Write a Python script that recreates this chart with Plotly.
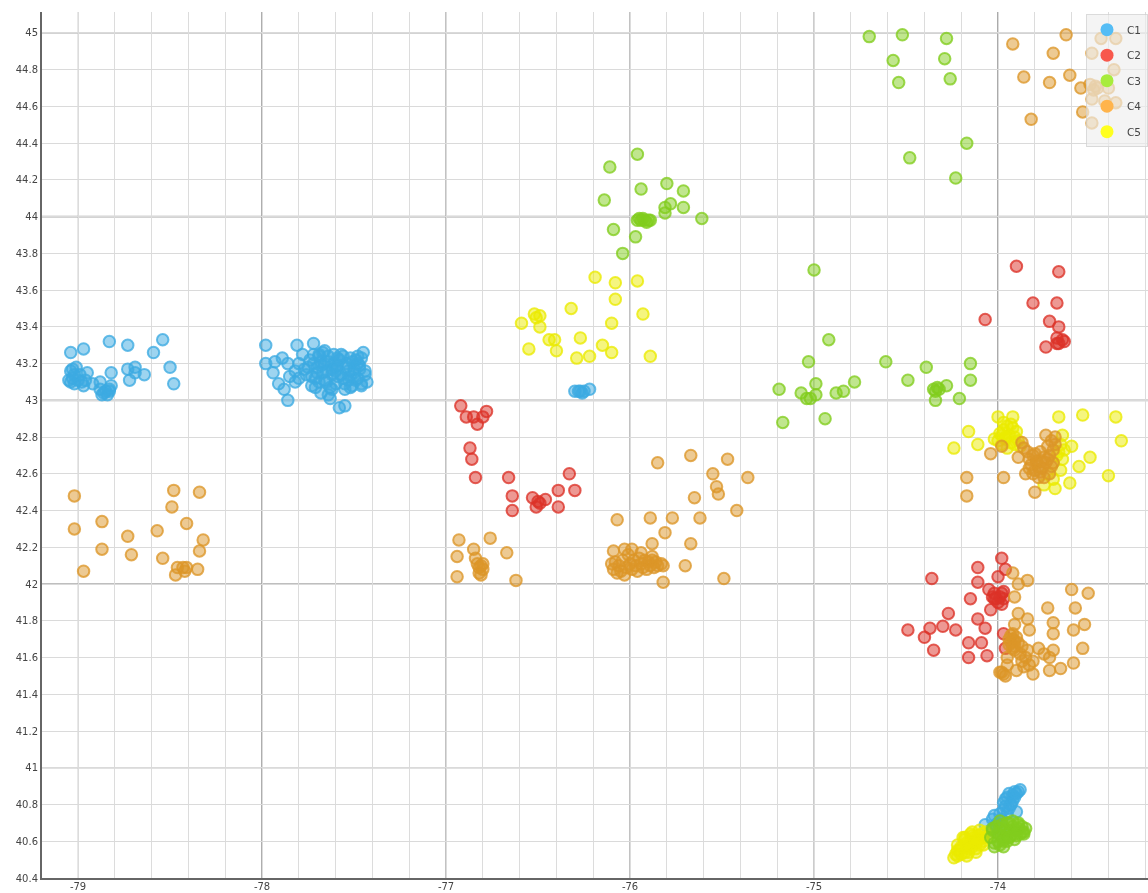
import plotly.graph_objects as go

c1_x = [-79.04,-78.97,-78.83,-78.73,-78.54,-78.59,-78.50,-78.48,-78.64,-78.69,-78.73,-78.72,-78.69,-78.82,-78.82,
        -78.88,-78.86,-78.84,-78.87,-78.85,-78.83,-78.88,-78.83,
        -79.04,-79.05,-79.03,-79.02,-79.00,-78.98,-78.97,-79.03,-79.04,-79.01,-78.99,-78.95,-78.92,-78.96,-79.02,
        -77.98,-77.81,-77.72,-77.98,-77.93,-77.89,-77.94,-77.91,-77.80,-77.78,-77.86,-77.85,-77.82,-77.80,-77.82,-77.88,-77.86,-77.77,
        -77.74,-77.73,-77.72,-77.71,-77.70,-77.69,-77.68,-77.67,-77.66,-77.65,-77.64,-77.63,-77.62,-77.61,-77.60,-77.59,-77.58,-77.57,-77.56,-77.55,-77.54,-77.53,-77.52,-77.51,-77.50,-77.49,-77.48,-77.47,-77.46,-77.45,-77.44,-77.43,
        -77.75,-77.73,-77.70,-77.68,-77.66,-77.64,-77.62,-77.60,-77.58,-77.56,-77.54,-77.52,-77.50,-77.48,-77.46,-77.44,
        -77.76,-77.72,-77.69,-77.67,-77.65,-77.63,-77.61,-77.59,-77.57,-77.55,-77.53,-77.51,-77.49,-77.47,
        -77.71,-77.66,-77.64,-77.60,-77.62,-77.55,-77.52,-77.59,-77.48,-77.46,-77.69,-77.68,
        -76.30,-76.28,-76.26,-76.27,-76.25,-76.22,
        -74.07,-74.04,-74.03,-74.01,-74.02,-74.00,-73.99,-73.98,-73.97,-73.98,-73.96,-73.95,-73.97,-73.94,-73.96,-73.93,-73.95,-73.92,-73.94,-73.91,-73.93,-73.90,-73.92,-73.89,-73.91,-73.88,-73.90]
c1_y = [43.26,43.28,43.32,43.30,43.33,43.26,43.18,43.09,43.14,43.18,43.17,43.11,43.15,43.15,43.08,
        43.06,43.04,43.03,43.03,43.05,43.05,43.10,43.06,
        43.10,43.11,43.12,43.09,43.11,43.10,43.08,43.17,43.16,43.18,43.14,43.15,43.09,43.11,43.14,
        43.30,43.30,43.31,43.20,43.21,43.23,43.15,43.09,43.20,43.25,43.20,43.13,43.10,43.12,43.16,43.06,43.00,43.17,
        43.22,43.13,43.25,43.07,43.18,43.24,43.04,43.15,43.27,43.10,43.21,43.01,43.17,43.25,43.09,43.19,42.96,43.14,43.24,43.06,43.20,43.11,43.23,43.08,43.17,43.22,43.12,43.19,43.09,43.26,43.14,43.10,
        43.18,43.08,43.15,43.21,43.11,43.24,43.06,43.16,43.22,43.12,43.18,43.07,43.15,43.20,43.08,43.16,
        43.14,43.20,43.10,43.26,43.16,43.07,43.20,43.13,43.25,43.09,43.16,43.21,43.11,43.17,
        43.12,43.20,43.03,43.18,43.14,42.97,43.13,43.23,43.24,43.23,43.25,43.19,
        43.05,43.05,43.04,43.05,43.05,43.06,
        40.69,40.66,40.72,40.69,40.74,40.70,40.75,40.72,40.77,40.68,40.79,40.75,40.81,40.78,40.83,40.80,40.84,40.82,40.86,40.84,40.80,40.86,40.85,40.87,40.87,40.88,40.76]

c2_x = [-76.92,-76.89,-76.85,-76.83,-76.80,-76.78,-76.87,-76.86,-76.84,-76.66,-76.64,-76.64,-76.53,-76.51,-76.50,-76.49,-76.46,-76.39,-76.39,-76.33,-76.30,
        -73.90,-73.67,-73.81,-73.68,-74.07,-73.72,-73.67,-73.68,-73.67,-73.74,-73.64,-73.68,-73.65,
        -74.36,-74.11,-74.11,-73.98,-73.96,-74.00,-74.05,-74.02,-74.01,-73.99,-73.97,-74.00,-73.98,-74.02,-74.03,-73.97,-74.15,-74.04,-73.98,
        -74.27,-74.11,-74.07,-74.30,-74.23,-74.37,-74.49,-74.40,-74.35,-74.16,-74.09,-74.16,-74.06,-73.97,-73.96]
c2_y = [42.97,42.91,42.91,42.87,42.91,42.94,42.74,42.68,42.58,42.58,42.48,42.40,42.47,42.42,42.45,42.44,42.46,42.51,42.42,42.60,42.51,
        43.73,43.70,43.53,43.53,43.44,43.43,43.40,43.34,43.31,43.29,43.32,43.31,43.33,
        42.03,42.09,42.01,42.14,42.08,42.04,41.97,41.95,41.92,41.93,41.92,41.90,41.95,41.92,41.93,41.96,41.92,41.86,41.89,
        41.84,41.81,41.76,41.77,41.75,41.76,41.75,41.71,41.64,41.68,41.68,41.60,41.61,41.73,41.65]

c3_x = [-74.70,-74.52,-74.28,-74.57,-74.29,-74.54,-74.26,-74.48,-74.17,-74.23,
        -76.11,-75.96,-76.14,-75.94,-75.80,-75.71,-75.78,-75.81,-75.81,-75.71,-75.61,-76.09,-75.97,-76.04,
        -75.96,-75.95,-75.94,-75.93,-75.92,-75.91,-75.90,-75.89,
        -75.00,-74.92,-75.03,-75.19,-75.17,-75.07,-75.04,-75.02,-74.99,-74.99,-74.94,-74.88,-74.84,-74.78,-74.61,-74.49,-74.39,-74.15,-74.15,-74.21,-74.28,-74.34,-74.35,-74.33,-74.34,-74.32,
        -74.04,-74.02,-74.00,-73.99,-73.98,-73.97,-73.96,-73.95,-73.94,-73.93,-73.92,-73.91,-73.90,-73.89,-73.88,-73.87,-73.86,-73.85,-74.03,-74.01,-73.99,-73.97,-73.95,-73.93,-73.91,-73.89,-73.87,-73.97,-74.00,-73.94,
        -74.03,-73.99,-73.95,-73.92,-73.89,-73.86,-74.02,-73.90,-73.97]
c3_y = [44.98,44.99,44.97,44.85,44.86,44.73,44.75,44.32,44.40,44.21,
        44.27,44.34,44.09,44.15,44.18,44.14,44.07,44.05,44.02,44.05,43.99,43.93,43.89,43.80,
        43.98,43.99,43.98,43.99,43.98,43.97,43.98,43.98,
        43.71,43.33,43.21,43.06,42.88,43.04,43.01,43.01,43.03,43.09,42.90,43.04,43.05,43.10,43.21,43.11,43.18,43.20,43.11,43.01,43.08,43.00,43.06,43.07,43.05,43.06,
        40.62,40.59,40.64,40.58,40.69,40.61,40.66,40.60,40.70,40.63,40.68,40.61,40.66,40.69,40.64,40.68,40.65,40.67,40.66,40.68,40.67,40.62,40.64,40.66,40.64,40.67,40.65,40.60,40.60,40.62,
        40.67,40.71,40.70,40.71,40.70,40.64,40.57,40.63,40.57]

c4_x = [-79.02,-79.02,-78.87,-78.87,-78.97,-78.73,-78.71,-78.57,-78.54,-78.48,-78.49,-78.41,-78.34,-78.32,-78.34,-78.35,-78.46,-78.43,-78.41,-78.42,-78.47,
        -76.93,-76.94,-76.94,-76.85,-76.84,-76.83,-76.82,-76.81,-76.80,-76.82,-76.80,-76.81,-76.76,-76.67,-76.62,
        -75.85,-75.67,-75.55,-75.47,-75.36,-75.53,-75.52,-75.65,-75.42,-76.07,-75.89,-75.77,-75.62,-75.81,-75.67,-75.88,-75.70,-75.49,-75.82,-76.09,
        -76.10,-76.09,-76.08,-76.07,-76.06,-76.05,-76.04,-76.03,-76.02,-76.01,-76.00,-75.99,-75.98,-75.97,-75.96,-75.95,-75.94,-75.93,-75.92,-75.91,-75.90,-75.89,-75.88,-75.87,-75.86,-75.85,-75.83,-76.03,-75.99,-75.94,-75.88,-75.82,
        -73.92,-73.63,-73.70,-73.86,-73.72,-73.61,-73.49,-73.44,-73.36,-73.37,-73.82,-73.55,-73.50,-73.47,-73.46,-73.40,-73.49,-73.42,-73.36,-73.54,-73.49,-73.48,
        -74.17,-74.17,-73.97,-73.80,-74.04,-73.98,-73.74,-73.89,-73.87,-73.85,
        -73.86,-73.84,-73.83,-73.82,-73.81,-73.80,-73.79,-73.78,-73.77,-73.76,-73.75,-73.74,-73.73,-73.72,-73.71,-73.70,-73.69,-73.83,-73.81,-73.79,-73.77,-73.75,-73.73,-73.71,-73.69,-73.80,-73.78,-73.76,-73.72,-73.70,
        -73.92,-73.84,-73.89,-73.91,-73.60,-73.51,-73.73,-73.58,-73.89,-73.84,-73.91,-73.70,-73.83,-73.53,-73.59,-73.70,-73.54,-73.70,-73.78,-73.75,-73.72,-73.59,-73.66,-73.72,-73.81,-73.90,-73.86,-73.81,-73.87,-73.84,-73.91,-73.95,-73.95,-73.98,-73.96,-73.97,-73.99,
        -73.94,-73.93,-73.92,-73.91,-73.93,-73.92,-73.90,-73.94,-73.91,-73.92,-73.89,-73.87,-73.88,-73.85,-73.83]
c4_y = [42.48,42.30,42.34,42.19,42.07,42.26,42.16,42.29,42.14,42.51,42.42,42.33,42.50,42.24,42.18,42.08,42.09,42.09,42.09,42.07,42.05,
        42.24,42.15,42.04,42.19,42.14,42.11,42.09,42.10,42.08,42.06,42.11,42.05,42.25,42.17,42.02,
        42.66,42.70,42.60,42.68,42.58,42.53,42.49,42.47,42.40,42.35,42.36,42.36,42.36,42.28,42.22,42.22,42.10,42.03,42.01,42.18,
        42.11,42.08,42.12,42.06,42.10,42.07,42.13,42.05,42.09,42.16,42.11,42.08,42.13,42.10,42.07,42.14,42.11,42.09,42.13,42.08,42.12,42.10,42.13,42.09,42.12,42.10,42.11,42.19,42.19,42.17,42.15,42.10,
        44.94,44.99,44.89,44.76,44.73,44.77,44.89,44.97,44.97,44.80,44.53,44.70,44.72,44.71,44.70,44.70,44.64,44.63,44.62,44.57,44.51,44.69,
        42.58,42.48,42.58,42.50,42.71,42.75,42.81,42.69,42.77,42.60,
        42.74,42.72,42.68,42.65,42.70,42.62,42.67,42.64,42.72,42.63,42.69,42.66,42.75,42.70,42.78,42.73,42.76,42.63,42.60,42.66,42.61,42.58,42.68,42.64,42.80,42.71,42.58,42.67,42.60,42.66,
        42.06,42.02,42.00,41.93,41.97,41.95,41.87,41.87,41.84,41.81,41.78,41.79,41.75,41.78,41.75,41.73,41.65,41.64,41.65,41.62,41.60,41.57,41.54,41.53,41.51,41.53,41.55,41.58,41.58,41.64,41.64,41.60,41.56,41.52,41.50,41.51,41.52,
        41.70,41.72,41.70,41.69,41.68,41.73,41.71,41.67,41.66,41.65,41.68,41.66,41.62,41.60,41.56]

c5_x = [-76.19,-76.08,-75.96,-76.08,-75.93,-76.32,-76.59,-76.52,-76.49,-76.49,-76.10,-76.55,-76.44,-76.41,-76.40,-76.27,-76.29,-76.22,-76.15,-76.10,-75.89,-76.51,
        -74.24,-74.16,-74.11,-74.00,-73.92,-73.67,-73.54,-73.36,-73.33,-73.40,-73.50,-73.56,-73.60,-73.61,-73.69,-73.75,-73.70,-73.66,-73.73,-73.65,-74.02,
        -74.00,-73.99,-73.98,-73.97,-73.96,-73.95,-73.94,-73.93,-73.92,-73.91,-73.90,-73.89,-73.88,-73.97,-73.95,-73.93,-73.91,-73.98,-73.96,-73.67,-73.66,-73.64,-73.65,-73.68,-73.70,
        -74.24,-74.23,-74.22,-74.21,-74.20,-74.19,-74.18,-74.17,-74.16,-74.15,-74.14,-74.13,-74.12,-74.11,-74.10,-74.09,-74.08,-74.07,-74.22,-74.20,-74.18,-74.16,-74.14,-74.12,-74.10,-74.08,-74.15,-74.13,-74.17,
        -74.22,-74.18,-74.14,-74.10,-74.12,-74.08,-74.17,-74.19,-74.06]
c5_y = [43.67,43.64,43.65,43.55,43.47,43.50,43.42,43.47,43.46,43.40,43.42,43.28,43.33,43.33,43.27,43.34,43.23,43.24,43.30,43.26,43.24,43.45,
        42.74,42.83,42.76,42.91,42.91,42.91,42.92,42.91,42.78,42.59,42.69,42.64,42.75,42.55,42.52,42.54,42.57,42.62,42.60,42.81,42.79,
        42.78,42.82,42.76,42.84,42.79,42.86,42.81,42.77,42.85,42.80,42.83,42.78,42.75,42.88,42.74,42.87,42.76,42.81,42.80,42.72,42.76,42.73,42.68,42.70,42.66,
        40.51,40.53,40.52,40.55,40.53,40.57,40.54,40.59,40.56,40.60,40.57,40.62,40.59,40.63,40.61,40.64,40.62,40.65,40.55,40.57,40.61,40.54,40.63,40.56,40.58,40.60,40.64,40.60,40.57,
        40.58,40.62,40.65,40.66,40.54,40.58,40.52,40.62,40.62]

legend_names = ["C1", "C2", "C3", "C4", "C5"]
legend_colors = ["#55BDF5", "#F8584C", "#A8EC3C", "#FFB44C", "#FFFF20"]
draw_order = [
    ("C1", c1_x, c1_y, "60,170,225"),
    ("C5", c5_x, c5_y, "235,235,0"),
    ("C3", c3_x, c3_y, "130,205,30"),
    ("C2", c2_x, c2_y, "220,50,40"),
    ("C4", c4_x, c4_y, "220,150,40"),
]
x_major = [-79, -78, -77, -76, -75, -74]
x_major_colors = ["#d8d8d8", "#777777", "#999999", "#999999", "#aaaaaa", "#777777"]
x_tick_labels = ["-79", "-78", "-77", "-76", "-75", "-74"]
y_major = [41, 42, 43, 44, 45]
y_major_colors = ["#c4c4c4", "#a8a8a8", "#b0b0b0", "#a8a8a8", "#c4c4c4"]

fig = go.Figure()
for name, xs, ys, rgb in draw_order:
    fig.add_trace(go.Scatter(
        x=xs, y=ys, mode="markers", name=name, showlegend=False, hoverinfo="skip",
        marker=dict(size=11.5, color=f"rgba({rgb},0.5)", line=dict(color=f"rgba({rgb},0.78)", width=2)),
    ))
for name, color in zip(legend_names, legend_colors):
    fig.add_trace(go.Scatter(
        x=[None], y=[None], mode="markers", name=name, legendgroup=name,
        marker=dict(size=13, color=color),
    ))

shapes = []
for v, col in zip(x_major, x_major_colors):
    shapes.append(dict(type="line", xref="x", yref="paper", x0=v, x1=v, y0=0, y1=1, layer="below", line=dict(color=col, width=1.3)))
for v, col in zip(y_major, y_major_colors):
    shapes.append(dict(type="line", xref="paper", yref="y", x0=0, x1=1, y0=v, y1=v, layer="below", line=dict(color=col, width=1.6)))

fig.update_layout(
    width=1148, height=893,
    margin=dict(l=42, r=0, t=12, b=15),
    paper_bgcolor="white", plot_bgcolor="white",
    font=dict(family="DejaVu Sans", size=10, color="#444444"),
    shapes=shapes,
    legend=dict(
        x=1, xanchor="right", y=0.9975, yanchor="top",
        bgcolor="rgba(238,238,238,0.65)", bordercolor="rgba(210,210,210,0.8)", borderwidth=1,
        font=dict(size=10.5, color="#444444"), tracegroupgap=6.5, itemwidth=30,
        traceorder="grouped", entrywidth=10,
    ),
    xaxis=dict(
        range=[-79.196, -73.185], tickvals=x_major, ticktext=x_tick_labels, showgrid=False, zeroline=False,
        showline=True, linecolor="#666666", linewidth=2, ticks="", ticklabelstandoff=-2,
        minor=dict(dtick=0.2, tick0=-79, showgrid=True, gridcolor="#dcdcdc", gridwidth=1),
    ),
    yaxis=dict(
        range=[40.4, 45.114], dtick=0.2, tick0=40.4, showgrid=True, gridcolor="#dadada", gridwidth=1, zeroline=False,
        showline=True, linecolor="#666666", linewidth=2, ticks="",
    ),
)
fig.write_html("out.html", config={"displayModeBar": False},
               post_script="document.body.style.margin='0';document.querySelector('.plotly-graph-div').style.filter='blur(0.5px)';")
